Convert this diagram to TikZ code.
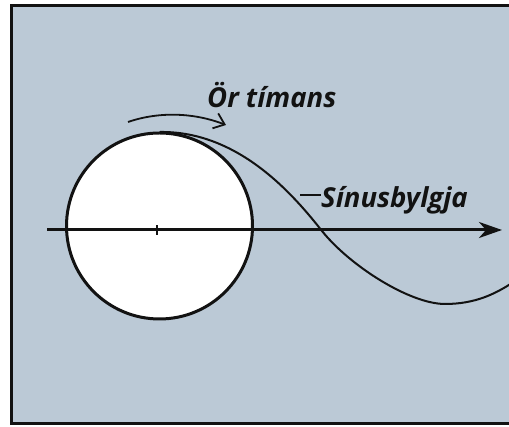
\documentclass[tikz,border=0pt]{standalone}
\usepackage{fontspec}
\setsansfont{Open Sans}
\usepackage{tikz}
\usetikzlibrary{arrows.meta}
\definecolor{swback}{HTML}{BBC9D6}
\definecolor{swink} {HTML}{121212}
\tikzset{
  swframe/.style={draw=swink, fill=swback, line width=3pt},
  swwheel/.style={draw=swink, fill=white, line width=3pt, circle,
                  minimum size=186pt, inner sep=0pt},
  swaxis/.style={draw=swink, line width=3pt,
                 -{Stealth[length=23pt,width=16pt,inset=7pt]}},
  swcurve/.style={draw=swink, line width=2pt},
  swturn/.style={draw=swink, line width=1.8pt,
                 -{Straight Barb[length=10pt,width=16pt]}},
  swlabel/.style={font=\sffamily\bfseries\itshape\fontsize{27.5}{28}\selectfont,
                  text=swink, inner sep=0pt, anchor=base west},
}

\begin{document}
\begin{tikzpicture}[x=1pt,y=1pt]
  \useasboundingbox (0,0) rectangle (509,427);
  \clip (0,0) rectangle (509,427);
  \fill[white] (0,0) rectangle (509,427);
  \draw[swframe] (11,3) rectangle (525,421);

  \node[swwheel] (wheel) at (159.5,201) {};
  \coordinate (axstart) at (47,197);
  \coordinate (axend)   at (502,197);
  \coordinate (hub)     at (157,197);
  \draw[swaxis] (axstart) -- (axend);
  \draw[draw=swink, line width=1.5pt] ([yshift=-5pt]hub) -- ([yshift=5pt]hub);

  % the wave leaves the top of the wheel
  \coordinate (crest)  at (160,295);
  \coordinate (zero)   at (322,196);
  \coordinate (trough) at (445,123);
  \coordinate (waveend) at (512,144);
  \draw[swcurve] (crest) .. controls (240,296) and (295,230) .. (zero)
                         .. controls (350,161) and (410,123) .. (trough)
                         .. controls (475,123) and (495,133) .. (waveend);

  \coordinate (turnA) at (128,305);
  \coordinate (turnB) at (226,302);
  \draw[swturn] (turnA) .. controls (160,316) and (195,314) .. (turnB);

  \node[swlabel] (time)  at (207,319) {Ör tímans};
  \node[swlabel] (sinus) at (321,219) {Sínusbylgja};
  \coordinate (sinept) at (300,232);
  \draw[draw=swink, line width=1.2pt] (sinept) -- (sinept -| sinus.west);
\end{tikzpicture}
\end{document}
